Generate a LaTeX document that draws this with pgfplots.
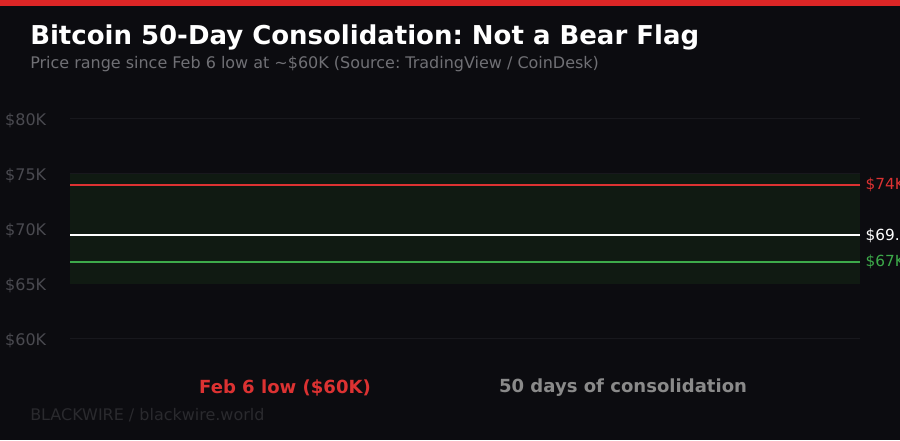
\documentclass[border=0pt]{standalone}
\usepackage{fontspec}
\setmainfont{DejaVu Sans}
\usepackage{pgfplots}
\pgfplotsset{compat=1.18}
\definecolor{bg}{HTML}{0C0C10}
\definecolor{topred}{HTML}{DC2626}
\definecolor{linered}{HTML}{DC3232}
\definecolor{linegreen}{HTML}{3DAA4A}
\definecolor{bandc}{HTML}{101A12}
\definecolor{gridc}{HTML}{18181D}
\definecolor{tickc}{HTML}{4A4A50}
\definecolor{subc}{HTML}{707075}
\definecolor{consc}{HTML}{8A8A8A}
\definecolor{footc}{HTML}{2A2A2E}
\frenchspacing
\begin{document}
\begin{tikzpicture}[x=0.72pt,y=0.72pt]
\useasboundingbox (0,0) rectangle (900,440);
\fill[bg] (0,0) rectangle (900,440);
\fill[topred] (0,434) rectangle (900,440);
\node[anchor=west,inner sep=0pt,text=white,font=\fontsize{18.7}{21}\selectfont\bfseries] at (30,403) {Bitcoin 50-Day Consolidation: Not a Bear Flag};
\node[anchor=west,inner sep=0pt,text=subc,font=\fontsize{11.5}{13}\selectfont] at (30,376) {Price range since Feb 6 low at \textasciitilde\$60K (Source: TradingView / CoinDesk)};
\begin{axis}[
  at={(44.6,62)}, anchor=south west,
  scale only axis, width=790*0.72pt, height=286*0.72pt,
  xmin=0, xmax=50, ymin=57, ymax=83,
  axis line style={draw=none},
  xtick=\empty,
  ytick={60,65,70,75,80},
  yticklabels={\$60K,\$65K,\$70K,\$75K,\$80K},
  major tick length=0pt,
  yticklabel style={anchor=east,inner sep=0pt,xshift=-24*0.72pt,yshift=-1.5*0.72pt,text=tickc,font=\fontsize{11.5}{13}\selectfont},
  /pgf/number format/assume math mode=true,
  ymajorgrids, grid style={gridc,line width=0.8pt},
  clip=false,
]
\addplot[fill=bandc,draw=none] coordinates {(0,65) (50,65) (50,75) (0,75)} -- cycle;
\addplot[linered,line width=1.5pt] coordinates {(0,74) (50,74)};
\addplot[white,line width=1.5pt] coordinates {(0,69.4) (50,69.4)};
\addplot[linegreen,line width=1.5pt] coordinates {(0,67) (50,67)};
\node[anchor=west,inner sep=0pt,text=linered,font=\fontsize{11}{13}\selectfont,xshift=5*0.72pt] at (axis cs:50,74) {\$74K};
\node[anchor=west,inner sep=0pt,text=white,font=\fontsize{11}{13}\selectfont,xshift=5*0.72pt] at (axis cs:50,69.4) {\$69.4K};
\node[anchor=west,inner sep=0pt,text=linegreen,font=\fontsize{11}{13}\selectfont,xshift=5*0.72pt] at (axis cs:50,67) {\$67K};
\end{axis}
\node[inner sep=0pt,text=linered,font=\fontsize{13}{15}\selectfont\bfseries] at (285,52) {Feb 6 low (\$60K)};
\node[inner sep=0pt,text=consc,font=\fontsize{13}{15}\selectfont\bfseries] at (623,52) {50 days of consolidation};
\node[anchor=west,inner sep=0pt,text=footc,font=\fontsize{11.5}{13}\selectfont] at (30,25) {BLACKWIRE / blackwire.world};
\end{tikzpicture}
\end{document}
